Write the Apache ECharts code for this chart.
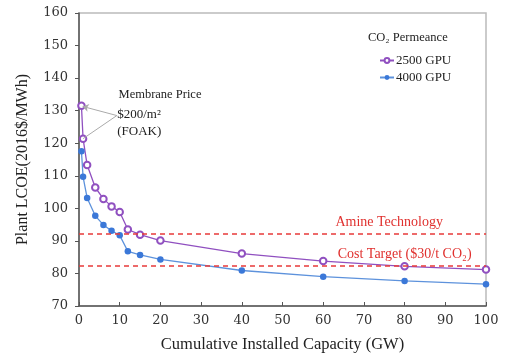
<!DOCTYPE html>
<html>
<head>
<meta charset="utf-8">
<script src="https://cdn.jsdelivr.net/npm/echarts@6/dist/echarts.min.js"></script>
<style>
  html, body { margin: 0; padding: 0; background: #fff; }
  #chart { width: 506px; height: 358px; }
</style>
</head>
<body>
<div id="chart"></div>
<script>
// capacity (GW)
const capacity = [0.6, 1, 2, 4, 6, 8, 10, 12, 15, 20, 40, 60, 80, 100];
const gpu2500 = [131.5, 121.4, 113.3, 106.4, 102.9, 100.6, 98.9, 93.5, 91.9, 90.1, 86.1, 83.8, 82.2, 81.2];
const gpu4000 = [117.5, 109.7, 103.2, 97.7, 94.9, 93.1, 91.7, 86.8, 85.7, 84.3, 80.9, 79.0, 77.7, 76.7];
const amineLCOE = 92.1;
const targetLCOE = 82.3;

const serif = "Liberation Serif";
const chart = echarts.init(document.getElementById("chart"));

const pts = (ys) => capacity.map((x, i) => [x, ys[i]]);

const option = {
	animation: false,
	title: {
		text: "CO\u2082 Permeance",
		left: 363,
		top: 26,
		textStyle: { fontFamily: serif, fontSize: 12.5, fontWeight: "normal", color: "#222" },
	},
	legend: {
		orient: "vertical",
		left: 374,
		top: 49,
		itemWidth: 14,
		itemHeight: 6,
		itemGap: 4,
		textStyle: { fontFamily: serif, fontSize: 13, color: "#222", padding: [0, 0, 0, -3] },
		data: ["2500 GPU", "4000 GPU"],
	},
	grid: {
		left: 79, right: 20, top: 13, bottom: 51,
		show: true, borderColor: "#bbb", borderWidth: 1.5,
	},
	xAxis: {
		type: "value",
		min: 0, max: 100, interval: 10,
		name: "Cumulative Installed Capacity (GW)",
		nameLocation: "middle",
		nameGap: 30,
		nameTextStyle: { fontFamily: serif, fontSize: 16.5, color: "#222" },
		axisLine: { lineStyle: { color: "#555", width: 1.5 } },
		axisTick: { inside: true, length: 4, lineStyle: { color: "#555" } },
		axisLabel: { fontFamily: "DejaVu Serif", fontSize: 13, color: "#333", margin: 8 },
		splitLine: { show: false },
	},
	yAxis: {
		type: "value",
		min: 70, max: 160, interval: 10,
		name: "Plant LCOE(2016$/MWh)",
		nameLocation: "middle",
		nameGap: 48,
		nameTextStyle: { fontFamily: serif, fontSize: 16, color: "#222" },
		axisLine: { show: true, lineStyle: { color: "#555", width: 1.5 } },
		axisTick: { show: true, length: 4, lineStyle: { color: "#555" } },
		axisLabel: { fontFamily: "DejaVu Serif", fontSize: 13, color: "#333", margin: 11 },
		splitLine: { show: false },
	},
	series: [
		{
			name: "2500 GPU",
			type: "line",
			data: pts(gpu2500),
			symbol: "emptyCircle",
			symbolSize: 6.5,
			itemStyle: { color: "#9050c0", borderWidth: 1.1 },
			lineStyle: { color: "#9050c0", width: 1.3 },
			z: 3,
			markLine: {
				silent: true,
				symbol: ["none", "arrow"],
				symbolSize: 6,
				label: { show: false },
				lineStyle: { color: "#aaa", width: 1, type: "solid" },
				data: [
					[{ coord: [9.3, 128.5] }, { coord: [capacity[0] + 0.3, gpu2500[0] - 0.2] }],
					[{ coord: [9.3, 128.5] }, { coord: [capacity[1], gpu2500[1]], symbol: "none" }],
				],
			},
			markPoint: {
				silent: true,
				symbolSize: 0,
				label: { show: true, fontFamily: serif, fontSize: 13, color: "#222" },
				data: [
					{ coord: [19.9, 134.9], label: { formatter: "Membrane Price", fontSize: 12.5 } },
					{ coord: [9.4, 126.3], label: { formatter: "$200/m\u00b2\n(FOAK)", align: "left", lineHeight: 17 } },
				],
			},
		},
		{
			name: "4000 GPU",
			type: "line",
			data: pts(gpu4000),
			symbol: "circle",
			symbolSize: 6.5,
			itemStyle: { color: "#3b78d8" },
			lineStyle: { color: "#5d92dc", width: 1.3 },
			z: 3,
			markLine: {
				silent: true,
				symbol: "none",
				label: { show: false },
				lineStyle: { color: "#e83a3a", width: 1.5, type: [5, 4] },
				data: [{ yAxis: amineLCOE }, { yAxis: targetLCOE }],
			},
			markPoint: {
				silent: true,
				symbolSize: 0,
				label: { show: true, fontFamily: serif, fontSize: 14, color: "#e0302e" },
				data: [
					{ coord: [76.2, amineLCOE + 3.5], label: { formatter: "Amine Technology" } },
					{ coord: [80, targetLCOE + 3.6], label: { formatter: "Cost Target ($30/t CO\u2082)" } },
				],
			},
		},
	],
};

chart.setOption(option);
</script>
</body>
</html>
